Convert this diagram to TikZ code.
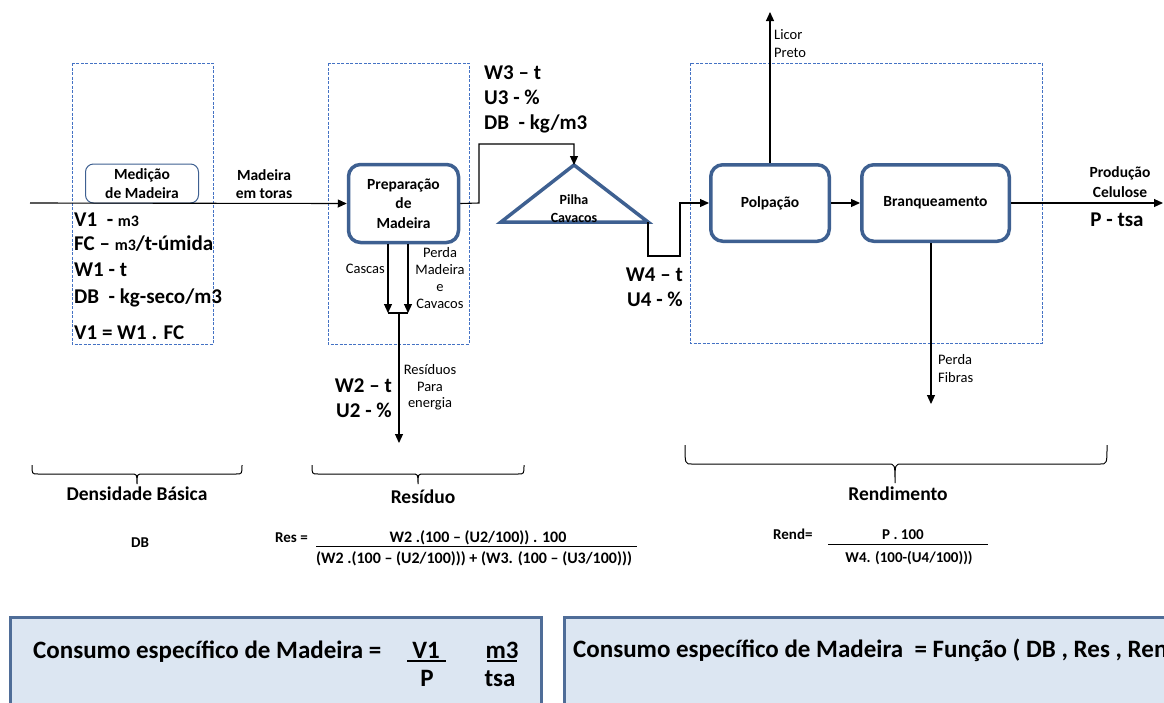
\documentclass[tikz,border=0pt]{standalone}
\usepackage{fontspec}
\usepackage{graphicx}
\setmainfont{Carlito}
\usetikzlibrary{arrows.meta}

\definecolor{procblue}{RGB}{62,96,145}
\definecolor{zoneblue}{RGB}{68,114,196}
\definecolor{panelfill}{RGB}{220,230,242}
\definecolor{panelline}{RGB}{79,109,152}

\tikzset{
  flow/.style={line width=1.1pt, -{Triangle[length=9pt,width=8pt]}},
  wire/.style={line width=1.1pt},
  zone/.style={draw=zoneblue, line width=0.8pt, dash pattern=on 3pt off 1.5pt},
  process/.style={draw=procblue, line width=3.5pt, rounded corners=12pt, fill=white,
    align=center, inner sep=0pt, font=\fontsize{15.5}{19.5}\selectfont\bfseries},
  gauge/.style={draw=procblue, line width=1pt, rounded corners=8pt, align=center,
    inner sep=0pt, font=\fontsize{15.5}{18.7}\selectfont\bfseries},
  qty/.style={inner sep=0pt, font=\fontsize{21}{25}\selectfont\bfseries},
  title/.style={inner sep=0pt, font=\fontsize{19.5}{24}\selectfont\bfseries},
  lbl/.style={inner sep=0pt, font=\fontsize{15.5}{19}\selectfont\bfseries},
  note/.style={inner sep=0pt, font=\fontsize{14.5}{17}\selectfont},
  formula/.style={inner sep=0pt, font=\fontsize{15}{18}\selectfont\bfseries},
  resformula/.style={inner sep=0pt, font=\fontsize{16}{19}\selectfont\bfseries},
  panel/.style={draw=panelline, line width=3pt, fill=panelfill},
  paneltext/.style={inner sep=0pt, font=\fontsize{25}{30}\selectfont\bfseries},
  curly/.style={line width=1pt},
}

\begin{document}
\begin{tikzpicture}[x=1pt,y=-1pt]
\useasboundingbox (0,0) rectangle (1164,702);
\clip (0,0) rectangle (1164,702);

% dashed zones
\draw[zone] (72,63) rectangle (213,344);
\draw[zone] (328,63) rectangle (469,344);
\draw[zone] (690,63) rectangle (1042,343);

% process blocks
\node[gauge, minimum width=113pt, minimum height=39pt] (medicao) at (142,183.5) {Medição\\de Madeira};
\node[process, minimum width=110pt, minimum height=78pt] (prep) at (403.5,203.5) {Preparação\\de\\Madeira};
\node[process, minimum width=118.5pt, minimum height=76.5pt] (polp) at (770,203) {Polpação};
\node[process, minimum width=147.5pt, minimum height=76.5pt] (branq) at (935.5,203) {Branqueamento};

% chip pile
\coordinate (pilhaTop) at (574,165);
\coordinate (pilhaL) at (501,222);
\coordinate (pilhaR) at (648,222);
\draw[procblue, line width=3.5pt, line join=miter] (pilhaTop) -- (pilhaL) -- (pilhaR) -- cycle;
\node[inner sep=0pt, font=\fontsize{14}{17}\selectfont\bfseries, anchor=base] (pilha1) at (574,204) {Pilha};
\node[inner sep=0pt, font=\fontsize{14}{17}\selectfont\bfseries, anchor=base] (pilha2) at (574,222) {Cavacos};

% connector end points
\coordinate (logsIn) at (30,203);
\coordinate (cascasEnd) at (388,313);
\coordinate (perdaEnd) at (408,313);
\coordinate (junction) at (399,313);
\coordinate (residuoEnd) at (399,443);
\coordinate (licorEnd) at (770,12);
\coordinate (fibrasEnd) at (931,404);
\coordinate (celuloseEnd) at (1163,203);

% connectors
\draw[flow] (logsIn) -- (prep.west);
\draw[flow] (prep.east) -- (479,203) -- (479,144) -- (574,144) -- (pilhaTop);
\draw[flow] (pilhaR) -- (648,256) -- (680,256) -- (680,203) -- (polp.west);
\draw[flow] (polp.east) -- (branq.west);
\draw[flow] (branq.east) -- (celuloseEnd);
\draw[flow] (polp.north) -- (licorEnd);
\draw[flow] (branq.south -| fibrasEnd) -- (fibrasEnd);
\draw[flow] (prep.south -| cascasEnd) -- (cascasEnd);
\draw[flow] (prep.south -| perdaEnd) -- (perdaEnd);
\draw[wire] (cascasEnd) -- (perdaEnd);
\draw[flow] (junction) -- (residuoEnd);

% stream labels
\node[lbl, anchor=base] (toras1) at (264,180) {Madeira};
\node[lbl, anchor=base] (toras2) at (264,198) {em toras};
\node[lbl, anchor=base] (prod1) at (1120,177) {Produção};
\node[lbl, anchor=base] (prod2) at (1120,197) {Celulose};
\node[qty, anchor=base] (ptsa) at (1117,226) {P - tsa};

\node[qty, anchor=base west] (v1) at (74,226) {V1\ \ - {\fontsize{16}{19}\selectfont m3}};
\node[qty, anchor=base west] (fc) at (74,250) {FC – {\fontsize{16}{19}\selectfont m3}/t-úmida};
\node[qty, anchor=base west] (w1) at (74,276) {W1 - t};
\node[qty, anchor=base west] (db1) at (74,303) {DB\ \ - kg-seco/m3};
\node[qty, anchor=base west] (v1eq) at (74,339) {V1 = W1 . FC};

\node[qty, anchor=base west] (w3) at (484,79) {W3 – t};
\node[qty, anchor=base west] (u3) at (484,104) {U3 - \%};
\node[qty, anchor=base west] (db3) at (484,129) {DB\ \ - kg/m3};

\node[qty, anchor=base east] (w4) at (683,281) {W4 – t};
\node[qty, anchor=base east] (u4) at (683,306) {U4 - \%};

\node[qty, anchor=base east] (w2) at (392,392) {W2 – t};
\node[qty, anchor=base east] (u2) at (392,417) {U2 - \%};

\node[note, anchor=base east] (cascas) at (385,273) {Cascas};
\node[note, anchor=base] (perda1) at (440,257) {Perda};
\node[note, anchor=base] (perda2) at (440,274) {Madeira};
\node[note, anchor=base] (perda3) at (440,291) {e};
\node[note, anchor=base] (perda4) at (440,308) {Cavacos};

\node[note, anchor=base] (resid1) at (430,374) {Resíduos};
\node[note, anchor=base] (resid2) at (430,391) {Para};
\node[note, anchor=base] (resid3) at (430,407) {energia};

\node[note, anchor=base west] (licor1) at (774,39) {Licor};
\node[note, anchor=base west] (licor2) at (774,57) {Preto};
\node[note, anchor=base west] (fibras1) at (938,364) {Perda};
\node[note, anchor=base west] (fibras2) at (938,382) {Fibras};

% braces
\draw[curly] (32,465) .. controls (32,474) .. (38,474) -- (131,474)
  .. controls (137,474) .. (137,484) .. controls (137,474) .. (143,474)
  -- (236,474) .. controls (242,474) .. (242,465);
\draw[curly] (312,465) .. controls (312,474) .. (318,474) -- (412,474)
  .. controls (418,474) .. (418,484) .. controls (418,474) .. (424,474)
  -- (518,474) .. controls (524,474) .. (524,465);
\draw[curly] (685,445) .. controls (685,464) .. (692,464) -- (888,464)
  .. controls (895,464) .. (895,483) .. controls (895,464) .. (902,464)
  -- (1100,464) .. controls (1107,464) .. (1107,445);

\node[title, anchor=base] (dbtitle) at (137,500) {Densidade Básica};
\node[title, anchor=base] (restitle) at (423,503) {Resíduo};
\node[title, anchor=base] (rendtitle) at (898,500) {Rendimento};

% formulas
\node[formula, anchor=base] (dbf) at (140,547) {DB};
\node[formula, anchor=base west] (resf) at (275,542) {Res =};
\node[resformula, anchor=base] (resnum) at (478,542) {W2 .(100 – (U2/100)) . 100};
\draw[line width=1pt] (316,546) -- (637,546);
\node[resformula, anchor=base] (resden) at (474,563) {(W2 .(100 – (U2/100))) + (W3. (100 – (U3/100)))};

\node[formula, anchor=base west] (rendf) at (773,539) {Rend=};
\node[formula, anchor=base] (rendnum) at (903,539) {P . 100};
\draw[line width=1pt] (828,544) -- (988,544);
\node[formula, anchor=base] (rendden) at (909,562) {W4. (100-(U4/100)))};

% summary panels
\draw[panel] (10.5,617.5) rectangle (541.5,720);
\draw[panel] (564.5,617.5) rectangle (1200,720);
\node[paneltext, anchor=base west] (cons1) at (33,658) {Consumo específico de Madeira =};
\node[paneltext, anchor=base] (cv1) at (426,658) {V1};
\draw[line width=1.2pt] (407,661) -- (446,661);
\node[paneltext, anchor=base] (cp) at (427,686) {P};
\node[paneltext, anchor=base] (cm3) at (502,658) {m3};
\draw[line width=1.2pt] (487,661) -- (517,661);
\node[paneltext, anchor=base] (ctsa) at (500,686) {tsa};
\node[paneltext, anchor=base west] (cons2) at (573,657) {Consumo específico de Madeira\ \ = Função ( DB , Res , Ren};
\end{tikzpicture}
\end{document}
